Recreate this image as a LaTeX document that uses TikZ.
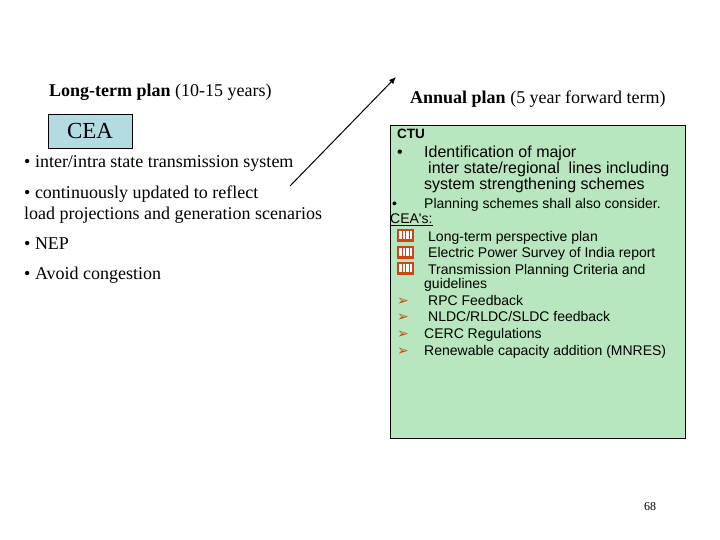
\documentclass[tikz,border=0pt]{standalone}
\usepackage{fontspec}
\setmainfont{Liberation Serif}
\newfontfamily\sansf{Liberation Sans}
\newfontfamily\djv{DejaVu Sans}
\usetikzlibrary{arrows.meta}
\definecolor{boxgreen}{RGB}{184,230,190}
\definecolor{ceablue}{RGB}{179,219,226}
\definecolor{iconor}{RGB}{205,70,20}
\tikzset{
  lt/.style={anchor=base west,inner sep=0pt,font=\fontsize{18}{20}\selectfont},
  rt/.style={anchor=base west,inner sep=0pt,font=\sansf\fontsize{16}{18}\selectfont},
  rs/.style={anchor=base west,inner sep=0pt,font=\sansf\fontsize{14}{16}\selectfont},
  mk/.style={anchor=base west,inner sep=0pt,font=\djv\fontsize{14}{16}\selectfont,text=iconor},
}
\newcommand{\bookicon}[2]{%
  \fill[iconor] (#1,#2) rectangle ++(17,13);
  \fill[white] (#1+2,#2+2) rectangle ++(6,8);
  \fill[white] (#1+9,#2+2) rectangle ++(6,8);
  \draw[iconor,line width=0.8pt] (#1+5,#2+2) -- ++(0,8) (#1+12,#2+2) -- ++(0,8);}
\begin{document}
\begin{tikzpicture}[x=1pt,y=-1pt]
\useasboundingbox[fill=white] (0,0) rectangle (720,540);
\node[lt] (lt) at (49,97) {\textbf{Long-term plan} (10-15 years)};
\node[draw,fill=ceablue,minimum width=84pt,minimum height=34pt,font=\fontsize{23}{25}\selectfont] (cea) at (90,131) {CEA};
\node[lt] (l1) at (24,168) {\textbullet\ inter/intra state transmission system};
\node[lt] (l2) at (24,199) {\textbullet\ continuously updated to reflect};
\node[lt] (l3) at (24,219) {load projections and generation scenarios};
\node[lt] (l4) at (24,249) {\textbullet\ NEP};
\node[lt] (l5) at (24,279) {\textbullet\ Avoid congestion};
\coordinate (as) at (290,186);
\coordinate (ae) at (396,77);
\draw[-{Latex[length=7pt,width=6pt]},line width=1pt] (as) -- (ae);
\node[lt] (ap) at (410,104) {\textbf{Annual plan} (5 year forward term)};
\node[draw,fill=boxgreen,minimum width=295pt,minimum height=313pt,anchor=north west,inner sep=0pt] (gb) at (390,125) {};
\node[rt,font=\sansf\bfseries\fontsize{13.5}{15}\selectfont] (ctu) at (397,139) {CTU};
\node[rt] (b1) at (397,158) {\textbullet};
\node[rt] (r1) at (424,158) {Identification of major};
\node[rt] (r2) at (428,174) {inter state/regional\ \ lines including};
\node[rt] (r3) at (424,190) {system strengthening schemes};
\node[rs] (b2) at (392,208) {\textbullet};
\node[rs] (r4) at (424,208) {Planning schemes shall also consider.};
\node[rs] (r5) at (390,224) {\underline{CEA's:}};
\bookicon{397}{229}
\node[rs] (r6) at (428,241) {Long-term perspective plan};
\bookicon{397}{246}
\node[rs] (r7) at (428,258) {Electric Power Survey of India report};
\bookicon{397}{262}
\node[rs] (r8) at (428,274) {Transmission Planning Criteria and};
\node[rs] (r9) at (424,288) {guidelines};
\node[mk] (m1) at (397,305) {➢};
\node[rs] (r10) at (428,305) {RPC Feedback};
\node[mk] (m2) at (397,321) {➢};
\node[rs] (r11) at (428,321) {NLDC/RLDC/SLDC feedback};
\node[mk] (m3) at (397,338) {➢};
\node[rs] (r12) at (424,338) {CERC Regulations};
\node[mk] (m4) at (397,355) {➢};
\node[rs] (r13) at (424,355) {Renewable capacity addition (MNRES)};
\node[anchor=base west,inner sep=0pt,font=\fontsize{12}{14}\selectfont] (pg) at (644,510) {68};
\end{tikzpicture}
\end{document}
